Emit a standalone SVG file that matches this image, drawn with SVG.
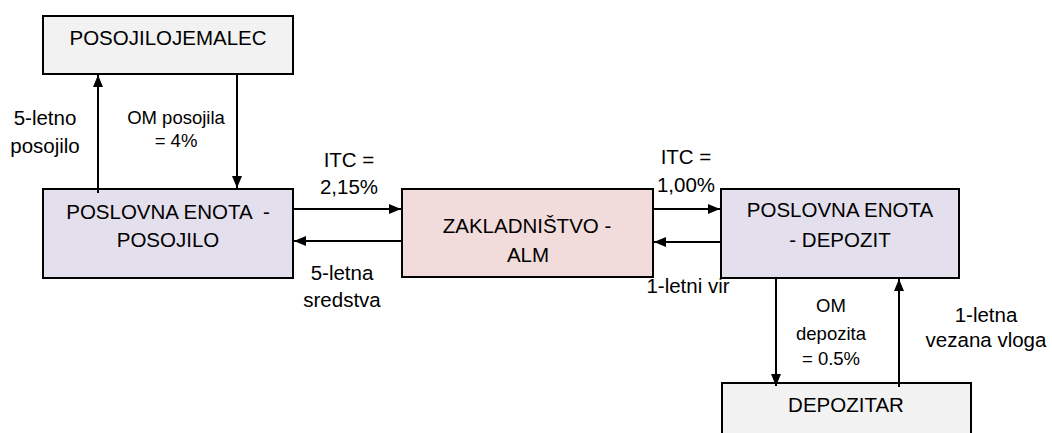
<svg xmlns="http://www.w3.org/2000/svg" width="1052" height="433" viewBox="0 0 1052 433">
<style>
.box{stroke:#000;stroke-width:2}
.t{font-family:"Liberation Sans",Arial,sans-serif;font-size:20.5px;fill:#000;text-anchor:middle}
.s{font-size:18.5px}
.c{stroke:#000;stroke-width:2;fill:none}
</style>
<defs>
<marker id="ah" viewBox="0 0 12 10" refX="12" refY="5" markerWidth="12" markerHeight="10" markerUnits="userSpaceOnUse" orient="auto">
<path d="M0,0 L12,5 L0,10 Z" fill="#000"/>
</marker>
</defs>
<rect width="1052" height="433" fill="#fff"/>
<g id="posojilojemalec">
<rect class="box" x="43" y="16" width="250" height="58" fill="#f2f2f2"/>
<text class="t" x="168" y="45">POSOJILOJEMALEC</text>
</g>
<g id="pe-posojilo">
<rect class="box" x="43" y="189" width="250" height="89" fill="#e4dfec"/>
<text class="t" x="168" y="219" xml:space="preserve">POSLOVNA ENOTA  -</text>
<text class="t" x="168" y="247">POSOJILO</text>
</g>
<g id="zakladnistvo">
<rect class="box" x="402" y="189" width="251" height="88" fill="#f2dcdb"/>
<text class="t" x="527" y="233">ZAKLADNIŠTVO -</text>
<text class="t" x="528" y="262">ALM</text>
</g>
<g id="pe-depozit">
<rect class="box" x="721" y="189" width="238" height="89" fill="#e4dfec"/>
<text class="t" x="840" y="217">POSLOVNA ENOTA</text>
<text class="t" x="840" y="247">- DEPOZIT</text>
</g>
<g id="depozitar">
<rect class="box" x="722" y="383" width="249" height="60" fill="#f2f2f2"/>
<text class="t" x="846" y="412">DEPOZITAR</text>
</g>
<g id="connectors">
<line class="c" x1="98" y1="193" x2="98" y2="75" marker-end="url(#ah)"/>
<line class="c" x1="237" y1="74" x2="237" y2="188" marker-end="url(#ah)"/>
<line class="c" x1="293" y1="209" x2="401" y2="209" marker-end="url(#ah)"/>
<line class="c" x1="402" y1="241" x2="294" y2="241" marker-end="url(#ah)"/>
<line class="c" x1="653" y1="209" x2="720" y2="209" marker-end="url(#ah)"/>
<line class="c" x1="721" y1="242" x2="654" y2="242" marker-end="url(#ah)"/>
<line class="c" x1="776" y1="278" x2="776" y2="386" marker-end="url(#ah)"/>
<line class="c" x1="899" y1="387" x2="899" y2="279" marker-end="url(#ah)"/>
</g>
<g id="labels">
<text class="t" x="45" y="125">5-letno</text>
<text class="t" x="45" y="153">posojilo</text>
<text class="t s" x="176" y="124">OM posojila</text>
<text class="t s" x="176" y="147">= 4%</text>
<text class="t" x="349" y="167">ITC =</text>
<text class="t" x="349" y="194">2,15%</text>
<text class="t" x="342" y="280">5-letna</text>
<text class="t" x="342" y="307">sredstva</text>
<text class="t" x="686" y="164">ITC =</text>
<text class="t" x="686" y="192">1,00%</text>
<text class="t" x="688" y="293">1-letni vir</text>
<text class="t s" x="831" y="312">OM</text>
<text class="t s" x="831" y="340">depozita</text>
<text class="t s" x="831" y="365">= 0.5%</text>
<text class="t" x="986" y="322">1-letna</text>
<text class="t" x="986" y="347">vezana vloga</text>
</g>
</svg>
